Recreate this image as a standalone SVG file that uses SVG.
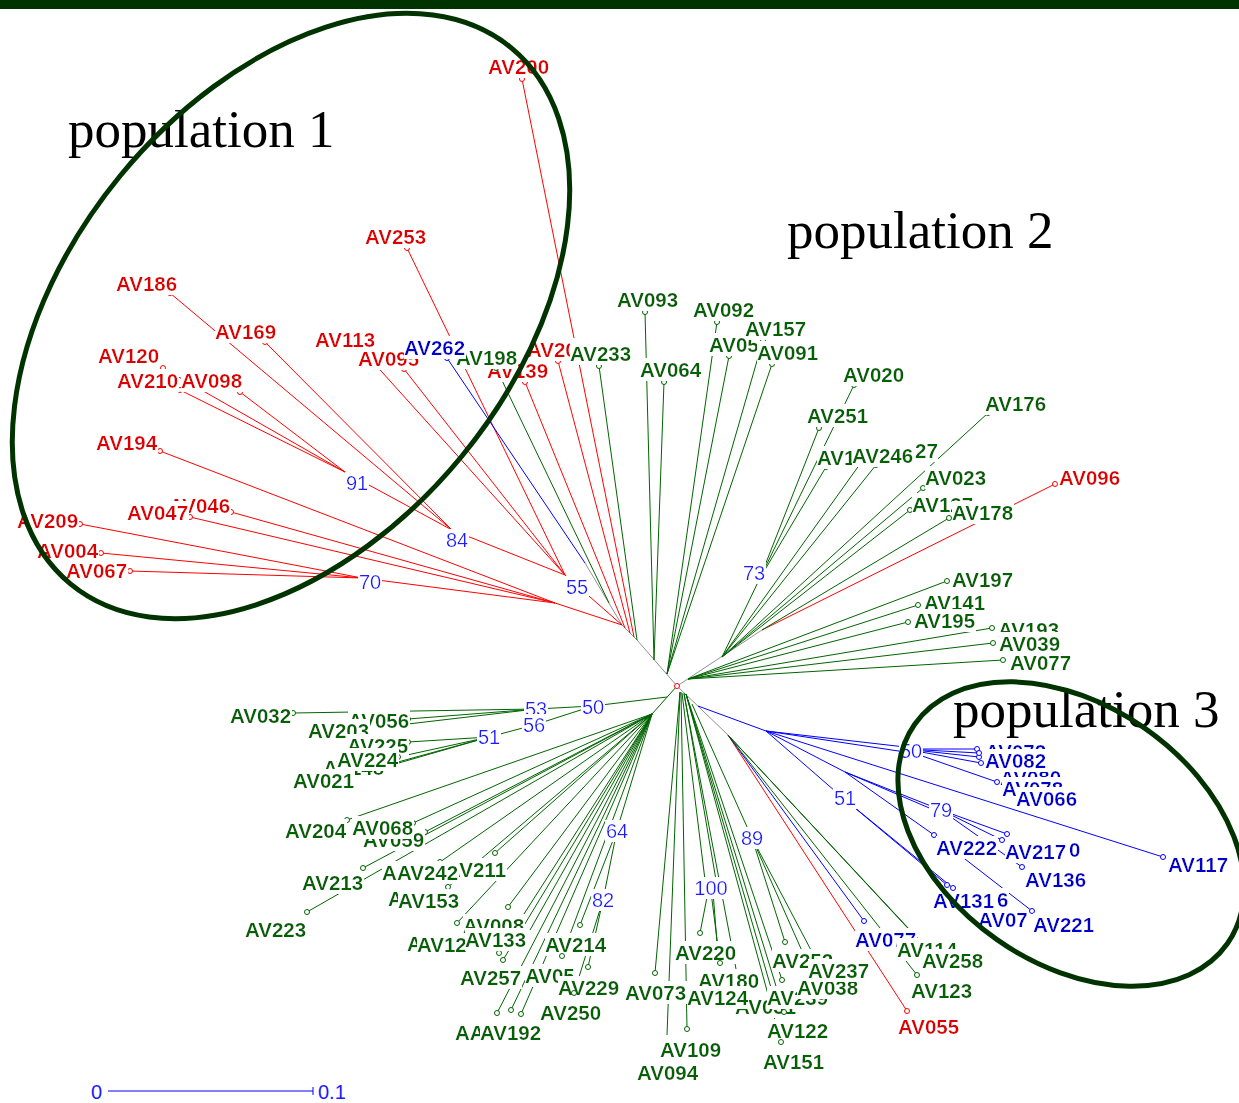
<svg xmlns="http://www.w3.org/2000/svg" width="1239" height="1103" viewBox="0 0 1239 1103">
<defs>
<filter id="bg" x="0" y="0" width="1" height="1"><feFlood flood-color="#ffffff" result="f"/><feMerge><feMergeNode in="f"/><feMergeNode in="SourceGraphic"/></feMerge></filter>
<style>
.t{font-family:"Liberation Sans",Arial,sans-serif;font-weight:bold;font-size:20.5px;filter:url(#bg)}
.r{fill:#dd0000}.g{fill:#006400}.b{fill:#0000cc}
.n{font-family:"Liberation Sans",Arial,sans-serif;font-size:20px;fill:#1a1aff;text-anchor:middle;filter:url(#bg)}
.pop{font-family:"Liberation Serif","Times New Roman",serif;font-size:53px;fill:#000000}
.l{fill:none;stroke-width:1}
.lr{stroke:#ff0000}.lg{stroke:#006400}.lb{stroke:#0000ff}.lk{stroke:#909090}
circle{fill:#ffffff;stroke-width:1}
.cr{stroke:#ff0000}.cg{stroke:#006400}.cb{stroke:#0000ff}
.ell{fill:none;stroke:#003300;stroke-width:5}
</style>
</defs>
<rect x="0" y="0" width="1239" height="1103" fill="#ffffff"/>
<rect x="0" y="0" width="1239" height="9" fill="#003300"/>
<g id="connectors">
<path class="l lk" d="M677,686 L637,640 L622,625 L585,563 M677,686 L762,630 M677,686 L728,735"/>
<path class="l lr" d="M522,79 L634,637 M558,361 L630,633 M525,382 L625,628 M565,575 L622,625 M555,603 L622,625 M452,530 L565,575 M345,472 L452,530 M170,293 L452,530 M265,342 L452,530 M363,351 L565,575 M404,369 L565,575 M407,248 L565,575 M163,368 L345,472 M180,390 L345,472 M240,392 L345,472 M160,451 L555,603 M231,512 L555,603 M190,517 L555,603 M362,578 L555,603 M80,524 L362,578 M101,553 L362,578 M130,571 L362,578 M1055,484 L762,630 M907,1011 L728,735"/>
<path class="l lb" d="M447,358 L585,563 M698,706 L766,731 M766,731 L1163,857 M766,731 L905,747 M766,731 L905,752 M905,749 L977,749 M905,749 L979,753 M905,749 L979,757 M905,749 L981,763 M905,750 L997,782 M766,731 L845,772 M845,772 L941,810 M845,772 L941,813 M845,772 L934,835 M934,835 L1032,911 M766,731 L843,798 M843,798 L947,885 M843,798 L953,888 M941,810 L1007,834 M941,810 L1022,867 M941,810 L1002,840 M864,921 L728,735"/>
<path class="l lg" d="M496,368 L609,603 M599,366 L637,640 M645,312 L654,660 M664,382 L654,660 M717,322 L667,674 M729,356 L667,674 M763,340 L667,674 M772,364 L667,674 M760,578 L722,657 M854,385 L760,578 M819,428 L760,578 M826,467 L760,578 M860,464 L722,657 M876,465 L722,657 M988,413 L722,657 M923,488 L722,657 M910,510 L722,657 M949,518 L762,630 M947,581 L688,679 M918,605 L688,679 M908,622 L688,679 M992,628 L688,679 M993,643 L688,679 M1003,660 L688,679
M677,686 L652,714 M593,706 L667,697 M536,709 L593,706 M534,725 L593,706 M489,737 L534,725 M293,713 L536,709 M408,719 L536,709 M408,724 L536,709 M408,742 L489,737 M398,757 L489,737 M398,762 L489,737 M357,775 L489,737
M347,820 L652,714 M413,823 L652,714 M425,832 L652,714 M363,868 L652,714 M307,912 L652,714 M495,853 L652,714 M440,862 L652,714 M448,887 L652,714 M508,907 L652,714 M457,923 L652,714 M530,930 L652,714 M499,953 L652,714 M503,960 L652,714 M497,1013 L652,714 M511,1010 L652,714 M521,1014 L652,714 M562,956 L652,714 M617,830 L652,714 M580,925 L617,830 M603,900 L617,830 M588,967 L603,900 M574,993 L603,900
M655,973 L680,692 M667,1035 L680,692 M687,1029 L681,692 M705,880 L682,693 M716,880 L684,693 M708,892 L700,933 M711,892 L720,963 M713,892 L717,943 M684,694 L740,990 M686,694 L782,980 M686,694 L776,1005 M686,694 L784,1012 M686,694 L781,1042 M692,704 L752,838 M752,838 L785,942 M752,838 L812,952 M752,838 L806,960 M728,735 L924,945 M728,735 L930,952 M728,735 L917,975"/>
</g>
<g id="tips-red">
<g id="AV200"><circle class="cr" cx="522" cy="79" r="2.5"/><text class="t r" x="488" y="74">AV200</text></g>
<g id="AV253"><circle class="cr" cx="407" cy="248" r="2.5"/><text class="t r" x="365" y="244">AV253</text></g>
<g id="AV186"><circle class="cr" cx="170" cy="293" r="2.5"/><text class="t r" x="116" y="291">AV186</text></g>
<g id="AV169"><circle class="cr" cx="265" cy="342" r="2.5"/><text class="t r" x="215" y="339">AV169</text></g>
<g id="AV113"><circle class="cr" cx="363" cy="351" r="2.5"/><text class="t r" x="315" y="347">AV113</text></g>
<g id="AV095"><circle class="cr" cx="404" cy="369" r="2.5"/><text class="t r" x="358" y="366">AV095</text></g>
<g id="AV120"><circle class="cr" cx="163" cy="368" r="2.5"/><text class="t r" x="98" y="363">AV120</text></g>
<g id="AV210"><circle class="cr" cx="180" cy="390" r="2.5"/><text class="t r" x="117" y="388">AV210</text></g>
<g id="AV098"><circle class="cr" cx="240" cy="392" r="2.5"/><text class="t r" x="181" y="388">AV098</text></g>
<g id="AV194"><circle class="cr" cx="160" cy="451" r="2.5"/><text class="t r" x="96" y="450">AV194</text></g>
<g id="AV046"><circle class="cr" cx="231" cy="512" r="2.5"/><text class="t r" x="169" y="513">AV046</text></g>
<g id="AV047"><circle class="cr" cx="190" cy="517" r="2.5"/><text class="t r" x="127" y="520">AV047</text></g>
<g id="AV209"><circle class="cr" cx="80" cy="524" r="2.5"/><text class="t r" x="17" y="528">AV209</text></g>
<g id="AV004"><circle class="cr" cx="101" cy="553" r="2.5"/><text class="t r" x="37" y="558">AV004</text></g>
<g id="AV067"><circle class="cr" cx="130" cy="571" r="2.5"/><text class="t r" x="66" y="578">AV067</text></g>
<g id="AV139"><circle class="cr" cx="525" cy="382" r="2.5"/><text class="t r" x="487" y="378">AV139</text></g>
<g id="AV20"><circle class="cr" cx="558" cy="361" r="2.5"/><text class="t r" x="527" y="357">AV20</text></g>
<g id="AV096"><circle class="cr" cx="1055" cy="484" r="2.5"/><text class="t r" x="1059" y="485">AV096</text></g>
<g id="AV055"><circle class="cr" cx="907" cy="1011" r="2.5"/><text class="t r" x="898" y="1034">AV055</text></g>
</g>
<g id="tips-green-top">
<g id="AV198"><circle class="cg" cx="496" cy="368" r="2.5"/><text class="t g" x="456" y="365">AV198</text></g>
<g id="AV233"><circle class="cg" cx="599" cy="366" r="2.5"/><text class="t g" x="570" y="361">AV233</text></g>
<g id="AV093"><circle class="cg" cx="645" cy="312" r="2.5"/><text class="t g" x="617" y="307">AV093</text></g>
<g id="AV064"><circle class="cg" cx="664" cy="382" r="2.5"/><text class="t g" x="640" y="377">AV064</text></g>
<g id="AV092"><circle class="cg" cx="717" cy="322" r="2.5"/><text class="t g" x="693" y="317">AV092</text></g>
<g id="AV05a"><circle class="cg" cx="729" cy="356" r="2.5"/><text class="t g" x="709" y="352">AV05</text></g>
<g id="AV157"><circle class="cg" cx="763" cy="340" r="2.5"/><text class="t g" x="745" y="336">AV157</text></g>
<g id="AV091"><circle class="cg" cx="772" cy="364" r="2.5"/><text class="t g" x="757" y="360">AV091</text></g>
<g id="AV020"><circle class="cg" cx="854" cy="385" r="2.5"/><text class="t g" x="843" y="382">AV020</text></g>
<g id="AV251"><circle class="cg" cx="819" cy="428" r="2.5"/><text class="t g" x="807" y="423">AV251</text></g>
<g id="AV1"><circle class="cg" cx="826" cy="467" r="2.5"/><text class="t g" x="817" y="465">AV1</text></g>
<g id="n27"><circle class="cg" cx="876" cy="465" r="2.5"/><text class="t g" x="915" y="458">27</text></g>
<g id="AV246"><circle class="cg" cx="860" cy="464" r="2.5"/><text class="t g" x="852" y="463">AV246</text></g>
<g id="AV176"><circle class="cg" cx="988" cy="413" r="2.5"/><text class="t g" x="985" y="411">AV176</text></g>
<g id="AV023"><circle class="cg" cx="923" cy="488" r="2.5"/><text class="t g" x="925" y="485">AV023</text></g>
<g id="AV127"><circle class="cg" cx="910" cy="510" r="2.5"/><text class="t g" x="912" y="512">AV127</text></g>
<g id="AV178"><circle class="cg" cx="949" cy="518" r="2.5"/><text class="t g" x="952" y="520">AV178</text></g>
<g id="AV197"><circle class="cg" cx="947" cy="581" r="2.5"/><text class="t g" x="952" y="587">AV197</text></g>
<g id="AV141"><circle class="cg" cx="918" cy="605" r="2.5"/><text class="t g" x="924" y="610">AV141</text></g>
<g id="AV195"><circle class="cg" cx="908" cy="622" r="2.5"/><text class="t g" x="914" y="628">AV195</text></g>
<g id="AV193"><circle class="cg" cx="992" cy="628" r="2.5"/><text class="t g" x="998" y="637">AV193</text></g>
<g id="AV039"><circle class="cg" cx="993" cy="643" r="2.5"/><text class="t g" x="999" y="651">AV039</text></g>
<g id="AV077g"><circle class="cg" cx="1003" cy="660" r="2.5"/><text class="t g" x="1010" y="670">AV077</text></g>
</g>
<g id="tips-blue">
<g id="AV262"><circle class="cb" cx="447" cy="358" r="2.5"/><text class="t b" x="404" y="355">AV262</text></g>
<g id="AV072"><circle class="cb" cx="977" cy="749" r="2.5"/><text class="t b" x="985" y="759">AV072</text></g>
<g id="AV080"><circle class="cb" cx="979" cy="757" r="2.5"/><text class="t b" x="1000" y="785">AV080</text></g>
<g id="AV082"><circle class="cb" cx="979" cy="753" r="2.5"/><text class="t b" x="985" y="768">AV082</text></g>
<g id="AV078"><circle class="cb" cx="981" cy="763" r="2.5"/><text class="t b" x="1002" y="796">AV078</text></g>
<g id="AV066"><circle class="cb" cx="997" cy="782" r="2.5"/><text class="t b" x="1016" y="806">AV066</text></g>
<g id="AV117"><circle class="cb" cx="1163" cy="857" r="2.5"/><text class="t b" x="1168" y="872">AV117</text></g>
<g id="AV222"><circle class="cb" cx="934" cy="835" r="2.5"/><text class="t b" x="936" y="855">AV222</text></g>
<g id="n0"><circle class="cb" cx="1002" cy="840" r="2.5"/><text class="t b" x="1069" y="857">0</text></g>
<g id="AV217"><circle class="cb" cx="1007" cy="834" r="2.5"/><text class="t b" x="1005" y="859">AV217</text></g>
<g id="AV136"><circle class="cb" cx="1022" cy="867" r="2.5"/><text class="t b" x="1025" y="887">AV136</text></g>
<g id="n6"><text class="t b" x="997" y="907">6</text></g>
<g id="AV131"><circle class="cb" cx="947" cy="885" r="2.5"/><text class="t b" x="933" y="908">AV131</text></g>
<g id="AV07"><circle class="cb" cx="953" cy="888" r="2.5"/><text class="t b" x="978" y="927">AV07</text></g>
<g id="AV221"><circle class="cb" cx="1032" cy="911" r="2.5"/><text class="t b" x="1033" y="932">AV221</text></g>
<g id="AV077b"><circle class="cb" cx="864" cy="921" r="2.5"/><text class="t b" x="855" y="947">AV077</text></g>
</g>
<g id="tips-green-low">
<g id="AV032"><circle class="cg" cx="293" cy="713" r="2.5"/><text class="t g" x="230" y="723">AV032</text></g>
<g id="AV056"><circle class="cg" cx="408" cy="719" r="2.5"/><text class="t g" x="348" y="728">AV056</text></g>
<g id="AV203"><text class="t g" x="308" y="738">AV203</text></g>
<g id="AV225"><circle class="cg" cx="408" cy="742" r="2.5"/><text class="t g" x="347" y="753">AV225</text></g>
<g id="AV148"><text class="t g" x="323" y="775">AV148</text></g>
<g id="AV224"><circle class="cg" cx="398" cy="757" r="2.5"/><text class="t g" x="337" y="767">AV224</text></g>
<g id="AV021"><text class="t g" x="293" y="788">AV021</text></g>
<g id="AV204"><circle class="cg" cx="347" cy="820" r="2.5"/><text class="t g" x="285" y="838">AV204</text></g>
<g id="AV059"><circle class="cg" cx="425" cy="832" r="2.5"/><text class="t g" x="363" y="847">AV059</text></g>
<g id="AV068"><circle class="cg" cx="413" cy="823" r="2.5"/><text class="t g" x="352" y="835">AV068</text></g>
<g id="AV213"><circle class="cg" cx="363" cy="868" r="2.5"/><text class="t g" x="302" y="890">AV213</text></g>
<g id="AV223"><circle class="cg" cx="307" cy="912" r="2.5"/><text class="t g" x="245" y="937">AV223</text></g>
<g id="AV211"><circle class="cg" cx="495" cy="853" r="2.5"/><text class="t g" x="446" y="877">AV211</text></g>
<g id="fragA1"><text class="t g" x="382" y="880">A</text></g>
<g id="AV242"><circle class="cg" cx="440" cy="862" r="2.5"/><text class="t g" x="397" y="880">AV242</text></g>
<g id="fragA2"><text class="t g" x="388" y="906">A</text></g>
<g id="AV153"><circle class="cg" cx="448" cy="887" r="2.5"/><text class="t g" x="398" y="908">AV153</text></g>
<g id="AV008"><circle class="cg" cx="508" cy="907" r="2.5"/><text class="t g" x="463" y="933">AV008</text></g>
<g id="fragA3"><circle class="cg" cx="499" cy="953" r="2.5"/><text class="t g" x="407" y="951">A</text></g>
<g id="AV12"><circle class="cg" cx="457" cy="923" r="2.5"/><text class="t g" x="417" y="952">AV12</text></g>
<g id="AV133"><text class="t g" x="465" y="947">AV133</text></g>
<g id="AV214"><circle class="cg" cx="580" cy="925" r="2.5"/><text class="t g" x="545" y="952">AV214</text></g>
<g id="AV257"><circle class="cg" cx="503" cy="960" r="2.5"/><text class="t g" x="460" y="985">AV257</text></g>
<g id="AV05b"><circle class="cg" cx="562" cy="956" r="2.5"/><text class="t g" x="525" y="983">AV05</text></g>
<g id="AV229"><circle class="cg" cx="588" cy="967" r="2.5"/><text class="t g" x="558" y="995">AV229</text></g>
<g id="AV250"><circle class="cg" cx="574" cy="993" r="2.5"/><text class="t g" x="540" y="1020">AV250</text></g>
<g id="AA"><circle class="cg" cx="497" cy="1013" r="2.5"/><circle class="cg" cx="521" cy="1014" r="2.5"/><text class="t g" x="455" y="1040">AA</text></g>
<g id="AV192"><circle class="cg" cx="511" cy="1010" r="2.5"/><text class="t g" x="480" y="1040">AV192</text></g>
<g id="AV073"><circle class="cg" cx="655" cy="973" r="2.5"/><text class="t g" x="625" y="1000">AV073</text></g>
<g id="AV109"><circle class="cg" cx="687" cy="1029" r="2.5"/><text class="t g" x="660" y="1057">AV109</text></g>
<g id="AV094"><text class="t g" x="637" y="1080">AV094</text></g>
<g id="AV220"><circle class="cg" cx="700" cy="933" r="2.5"/><text class="t g" x="675" y="960">AV220</text></g>
<g id="AV180"><circle class="cg" cx="720" cy="963" r="2.5"/><text class="t g" x="698" y="988">AV180</text></g>
<g id="AV031"><text class="t g" x="735" y="1014">AV031</text></g>
<g id="AV124"><text class="t g" x="687" y="1005">AV124</text></g>
<g id="AV239"><circle class="cg" cx="782" cy="980" r="2.5"/><text class="t g" x="767" y="1005">AV239</text></g>
<g id="AV122"><circle class="cg" cx="784" cy="1012" r="2.5"/><text class="t g" x="767" y="1038">AV122</text></g>
<g id="AV151"><circle class="cg" cx="781" cy="1042" r="2.5"/><text class="t g" x="763" y="1069">AV151</text></g>
<g id="AV252"><circle class="cg" cx="785" cy="942" r="2.5"/><text class="t g" x="772" y="968">AV252</text></g>
<g id="AV038"><text class="t g" x="797" y="995">AV038</text></g>
<g id="AV237"><text class="t g" x="808" y="978">AV237</text></g>
<g id="AV114"><circle class="cg" cx="924" cy="945" r="2.5"/><text class="t g" x="897" y="957">AV114</text></g>
<g id="AV258"><text class="t g" x="922" y="968">AV258</text></g>
<g id="AV123"><circle class="cg" cx="917" cy="975" r="2.5"/><text class="t g" x="911" y="998">AV123</text></g>
</g>
<g id="support">
<text class="n" x="357" y="490">91</text>
<text class="n" x="457" y="547">84</text>
<text class="n" x="370" y="589">70</text>
<text class="n" x="577" y="594">55</text>
<text class="n" x="754" y="580">73</text>
<text class="n" x="536" y="716">53</text>
<text class="n" x="593" y="714">50</text>
<text class="n" x="534" y="732">56</text>
<text class="n" x="489" y="744">51</text>
<text class="n" x="617" y="838">64</text>
<text class="n" x="603" y="907">82</text>
<text class="n" x="711" y="895">100</text>
<text class="n" x="752" y="845">89</text>
<text class="n" x="911" y="758">50</text>
<text class="n" x="845" y="805">51</text>
<text class="n" x="941" y="817">79</text>
</g>
<g id="root"><circle class="cr" cx="677" cy="686" r="2.5"/></g>
<g id="scalebar">
<path class="l lb" d="M108,1091 L313,1091 M313,1087 L313,1095"/>
<text x="91" y="1099" style="font-family:'Liberation Sans',Arial,sans-serif;font-size:20px;fill:#1a1aff">0</text>
<text x="318" y="1099" style="font-family:'Liberation Sans',Arial,sans-serif;font-size:20px;fill:#1a1aff">0.1</text>
</g>
<g id="population-labels">
<text class="pop" x="68" y="147">population 1</text>
<text class="pop" x="787" y="248">population 2</text>
<text class="pop" x="953" y="727">population 3</text>
</g>
<g id="ellipses">
<ellipse class="ell" cx="291" cy="316" rx="347" ry="221" transform="rotate(-50.6 291 316)"/>
<ellipse class="ell" cx="1071" cy="834" rx="191" ry="129" transform="rotate(35 1071 834)"/>
</g>
</svg>
